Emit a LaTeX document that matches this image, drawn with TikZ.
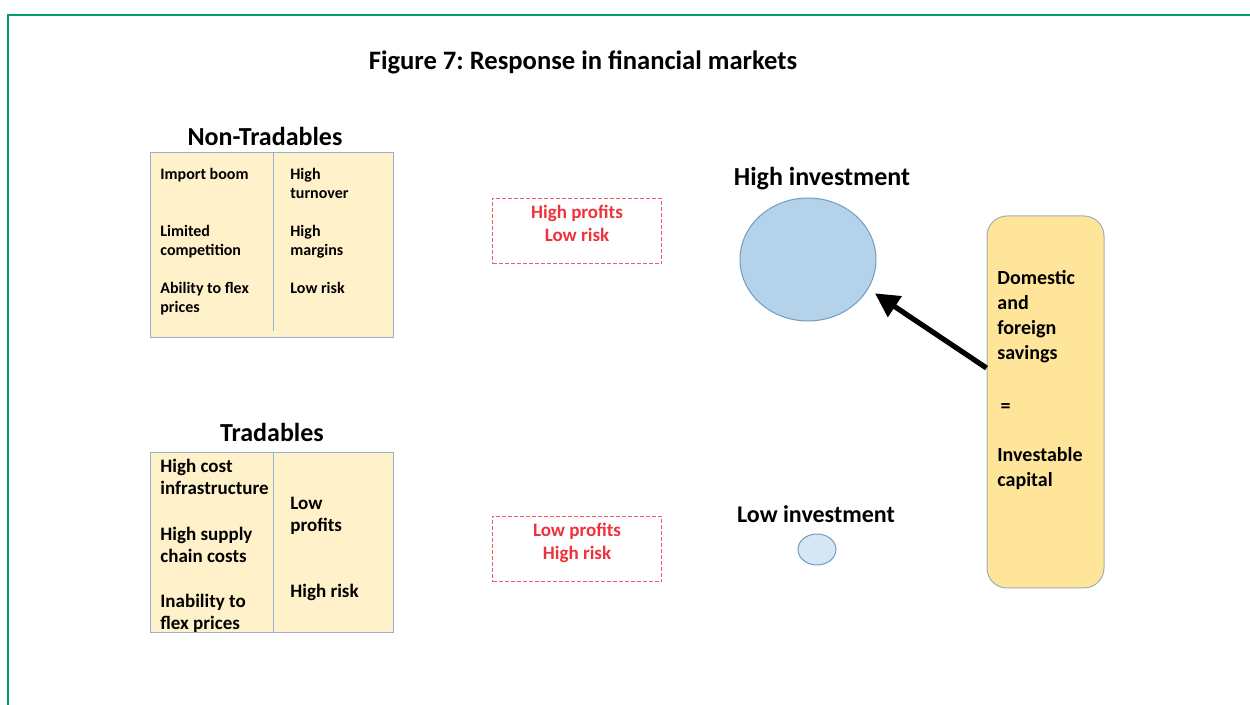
\documentclass[tikz,border=0pt]{standalone}
\usepackage{fontspec}
\setmainfont{Carlito}
\usetikzlibrary{arrows.meta,shapes.geometric,positioning}
\frenchspacing

\definecolor{FrameGreen}{RGB}{0,158,96}
\definecolor{TableFill}{RGB}{255,241,201}
\definecolor{TableLine}{RGB}{150,178,205}
\definecolor{SavingsFill}{RGB}{255,229,153}
\definecolor{SavingsLine}{RGB}{160,175,180}
\definecolor{RiskRed}{RGB}{238,50,60}
\definecolor{HighBlue}{RGB}{180,211,234}
\definecolor{LowBlue}{RGB}{214,230,244}
\definecolor{BlobLine}{RGB}{115,155,195}

\begin{document}
\begin{tikzpicture}[
        % Environment Config
        x=0.5pt, y=-0.5pt,
        font=\bfseries,
        TableBox/.style={% Style for the two tables
          draw=TableLine,
          fill=TableFill,
          line width=0.6pt,
          inner sep=0pt,
          minimum width=121.5pt,
          anchor=north west
        },
        RiskBox/.style={% Style for the red dashed boxes
          draw=RiskRed!80,
          dash pattern=on 2pt off 1pt,
          line width=0.6pt,
          text=RiskRed,
          align=center,
          minimum width=84.5pt,
          minimum height=32.5pt,
          text depth=8pt,
          font=\bfseries\fontsize{9.5}{11.5}\selectfont
        },
        Blob/.style={% Style for the investment ellipses
          ellipse,
          draw=BlobLine,
          line width=0.5pt,
          inner sep=0pt
        },
        Heading/.style={% Style for the titles
          font=\bfseries\fontsize{13}{15}\selectfont,
          inner sep=0pt
        },
        Cell/.style 2 args={% Style for the table texts
          anchor=north west,
          align=left,
          inner sep=0pt,
          font=\bfseries\fontsize{#1}{#2}\selectfont
        },
        BigArrow/.style={% Style for the savings arrow
          -{Triangle[length=12pt,width=12pt]},
          line width=2.6pt,
          shorten >=4pt
        }
      ]

      \useasboundingbox (0,0) rectangle (1250,705);

      %===Frame===
      \draw[FrameGreen, line width=1.2pt] (8,705) -- (8,15) -- (1250,15);

      %===Title===
      \draw(583,62) node[font=\bfseries\fontsize{13.3}{15}\selectfont](title){Figure 7: Response in financial markets};

      % Non-Tradables table
      \draw(265,136) node[Heading](hdrNT){Non-Tradables};
      \draw(150,152) node[TableBox, minimum height=92.5pt](nt){};
      \draw[TableLine, line width=0.6pt, shorten >=3.5pt] ([xshift=0.75pt]nt.north) -- ([xshift=0.75pt]nt.south);
      \draw(160,168) node[Cell={8}{9.5}](ntA){Import boom};
      \draw(160,225) node[Cell={8}{9.5}](ntB){Limited\\competition};
      \draw(160,282) node[Cell={8}{9.5}](ntC){Ability to flex\\prices};
      \draw(290,168) node[Cell={8}{9.5}](ntD){High\\turnover};
      \draw(290,225) node[Cell={8}{9.5}](ntE){High\\margins};
      \draw(290,282) node[Cell={8}{9.5}](ntF){Low risk};

      % Tradables table
      \draw(272,432) node[Heading](hdrT){Tradables};
      \draw(150,452) node[TableBox, minimum height=90pt](tr){};
      \draw[TableLine, line width=0.6pt] ([xshift=0.75pt]tr.north) -- ([xshift=0.75pt]tr.south);
      \draw(160,459) node[Cell={9.5}{11}](trA){High cost\\infrastructure};
      \draw(160,527) node[Cell={9.5}{11}](trB){High supply\\chain costs};
      \draw(160,594) node[Cell={9.5}{11}](trC){Inability to\\flex prices};
      \draw(290,497) node[Cell={9.5}{11}](trD){Low\\profits};
      \draw(290,584) node[Cell={9.5}{11}](trE){High risk};

      % Red dashed boxes
      \draw(577,231) node[RiskBox](riskHi){High profits\\Low risk};
      \draw(577,549) node[RiskBox](riskLo){Low profits\\High risk};

      % Investment ellipses
      \draw(822,179) node[Heading](hdrHi){High investment};
      \draw(808,259.5) node[Blob, fill=HighBlue, minimum width=68pt, minimum height=61.5pt](hi){};
      \draw(816,514) node[Heading, font=\bfseries\fontsize{12}{14}\selectfont](hdrLo){Low investment};
      \draw(817,549.5) node[Blob, fill=LowBlue, minimum width=19pt, minimum height=15.5pt](lo){};

      % Savings box
      \draw(1045.5,402) node[draw=SavingsLine, fill=SavingsFill, line width=0.5pt, rounded corners=10pt,
          minimum width=58.5pt, minimum height=186pt](sav){};
      \draw(997,270) node[Cell={10}{12.5}](savTxt){Domestic\\and\\foreign\\savings\\[14pt]\,=\\[12pt]Investable\\capital};

      %===Arrow===
      \draw[BigArrow] ([yshift=17pt]sav.west) -- (hi.-26);

\end{tikzpicture}
\end{document}
